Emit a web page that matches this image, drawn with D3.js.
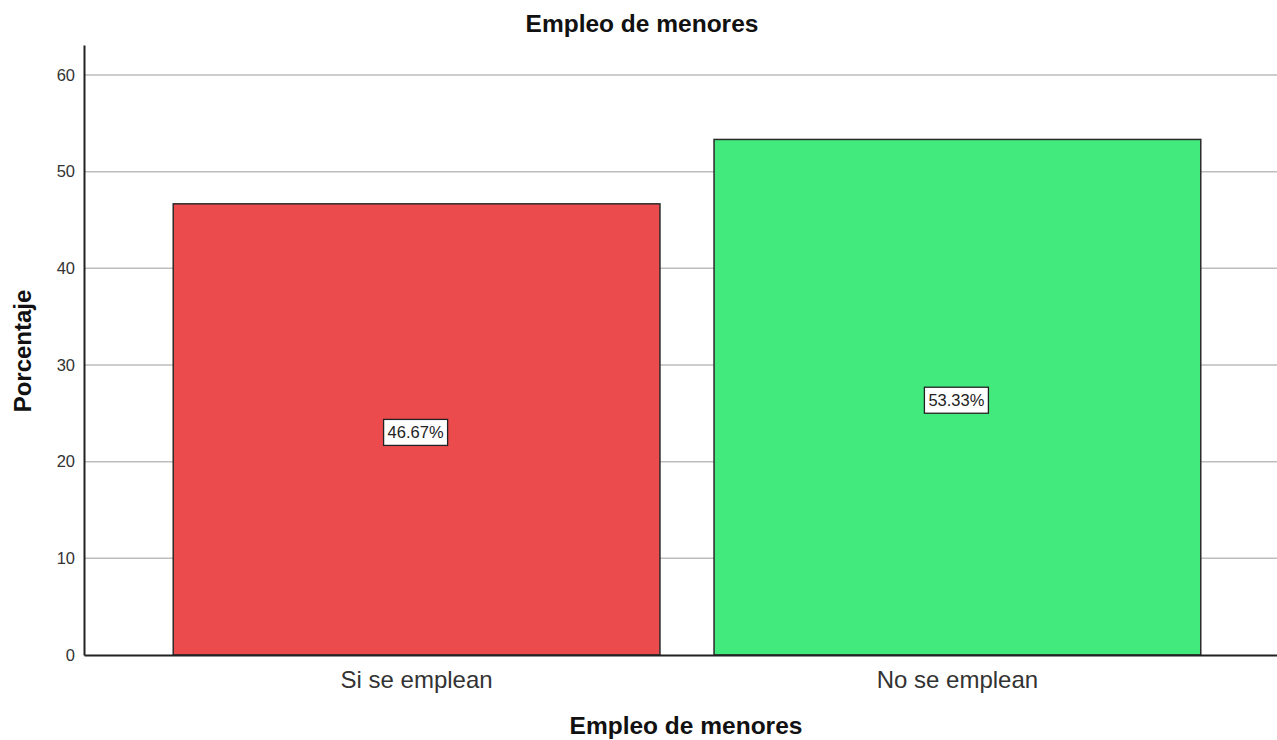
<!DOCTYPE html>
<html>
<head>
<meta charset="utf-8">
<script src="https://cdn.jsdelivr.net/npm/d3@7"></script>
<style>
  body { margin: 0; background: #fff; }
  text { font-family: "Liberation Sans", Arial, sans-serif; }
</style>
</head>
<body>
<div id="chart"></div>
<script>
// data
var categories = ["Si se emplean", "No se emplean"];
var percents = [46.67, 53.33];
var barColors = ["#EC4B4D", "#42EA7D"];
var yTicks = [0, 10, 20, 30, 40, 50, 60];

var svgWidth = 1277;
var svgHeight = 740;

var margin = { top: 45, right: -13, bottom: 85, left: 84 };
var width = svgWidth - margin.left - margin.right;
var height = svgHeight - margin.top - margin.bottom;

var svg = d3.select("#chart")
  .append("svg")
  .attr("width", svgWidth)
  .attr("height", svgHeight);

var chartGroup = svg.append("g")
  .attr("transform", `translate(${margin.left}, ${margin.top})`);

var xScale = d3.scaleBand()
  .domain(categories)
  .range([0, width])
  .paddingInner(0.1)
  .paddingOuter(0.165);

var yScale = d3.scaleLinear()
  .domain([0, 63.1])
  .range([height, 0]);

// gridlines
chartGroup.append("g")
  .selectAll("line")
  .data(yTicks.slice(1))
  .enter()
  .append("line")
  .attr("x1", 0)
  .attr("x2", width)
  .attr("y1", d => yScale(d))
  .attr("y2", d => yScale(d))
  .attr("stroke", "#bdbdbd")
  .attr("stroke-width", 1.5);

// bars
chartGroup.selectAll("rect.bar")
  .data(percents)
  .enter()
  .append("rect")
  .attr("class", "bar")
  .attr("x", (d, i) => xScale(categories[i]))
  .attr("y", d => yScale(d))
  .attr("width", xScale.bandwidth())
  .attr("height", d => height - yScale(d))
  .attr("fill", (d, i) => barColors[i])
  .attr("stroke", "#2b2b2b")
  .attr("stroke-width", 1.5);

// value labels
var labels = chartGroup.selectAll("g.val")
  .data(percents)
  .enter()
  .append("g")
  .attr("class", "val")
  .attr("transform", (d, i) => `translate(${xScale(categories[i]) + xScale.bandwidth() / 2 - 1}, ${yScale(d / 2) + 3})`);

labels.append("rect")
  .attr("x", -32)
  .attr("y", -13)
  .attr("width", 64)
  .attr("height", 26)
  .attr("fill", "#fff")
  .attr("stroke", "#222")
  .attr("stroke-width", 1.3);

labels.append("text")
  .attr("text-anchor", "middle")
  .attr("dy", "0.36em")
  .attr("font-size", 16.5)
  .attr("fill", "#222")
  .text(d => d.toFixed(2) + "%");

// axes
var leftAxis = d3.axisLeft(yScale).tickValues(yTicks).tickSize(0).tickPadding(9);
var bottomAxis = d3.axisBottom(xScale).tickSize(0).tickPadding(16);

var yAxisG = chartGroup.append("g").call(leftAxis);
yAxisG.select(".domain").attr("stroke", "#222").attr("stroke-width", 2);
yAxisG.selectAll("text")
  .attr("font-size", 16.5)
  .attr("fill", "#333")
  .style("font-family", "Liberation Sans, Arial, sans-serif");

var xAxisG = chartGroup.append("g")
  .attr("transform", `translate(0, ${height})`)
  .call(bottomAxis);
xAxisG.select(".domain").attr("stroke", "#222").attr("stroke-width", 2);
xAxisG.selectAll("text")
  .attr("font-size", 24)
  .attr("fill", "#333")
  .style("font-family", "Liberation Sans, Arial, sans-serif");

// titles
svg.append("text")
  .attr("x", 642)
  .attr("y", 32)
  .attr("text-anchor", "middle")
  .attr("font-size", 24.5)
  .attr("font-weight", "bold")
  .attr("fill", "#111")
  .text("Empleo de menores");

svg.append("text")
  .attr("x", 686)
  .attr("y", 734)
  .attr("text-anchor", "middle")
  .attr("font-size", 24.5)
  .attr("font-weight", "bold")
  .attr("fill", "#111")
  .text("Empleo de menores");

svg.append("text")
  .attr("transform", "rotate(-90)")
  .attr("x", -351)
  .attr("y", 31)
  .attr("text-anchor", "middle")
  .attr("font-size", 24)
  .attr("font-weight", "bold")
  .attr("fill", "#111")
  .text("Porcentaje");
</script>
</body>
</html>
